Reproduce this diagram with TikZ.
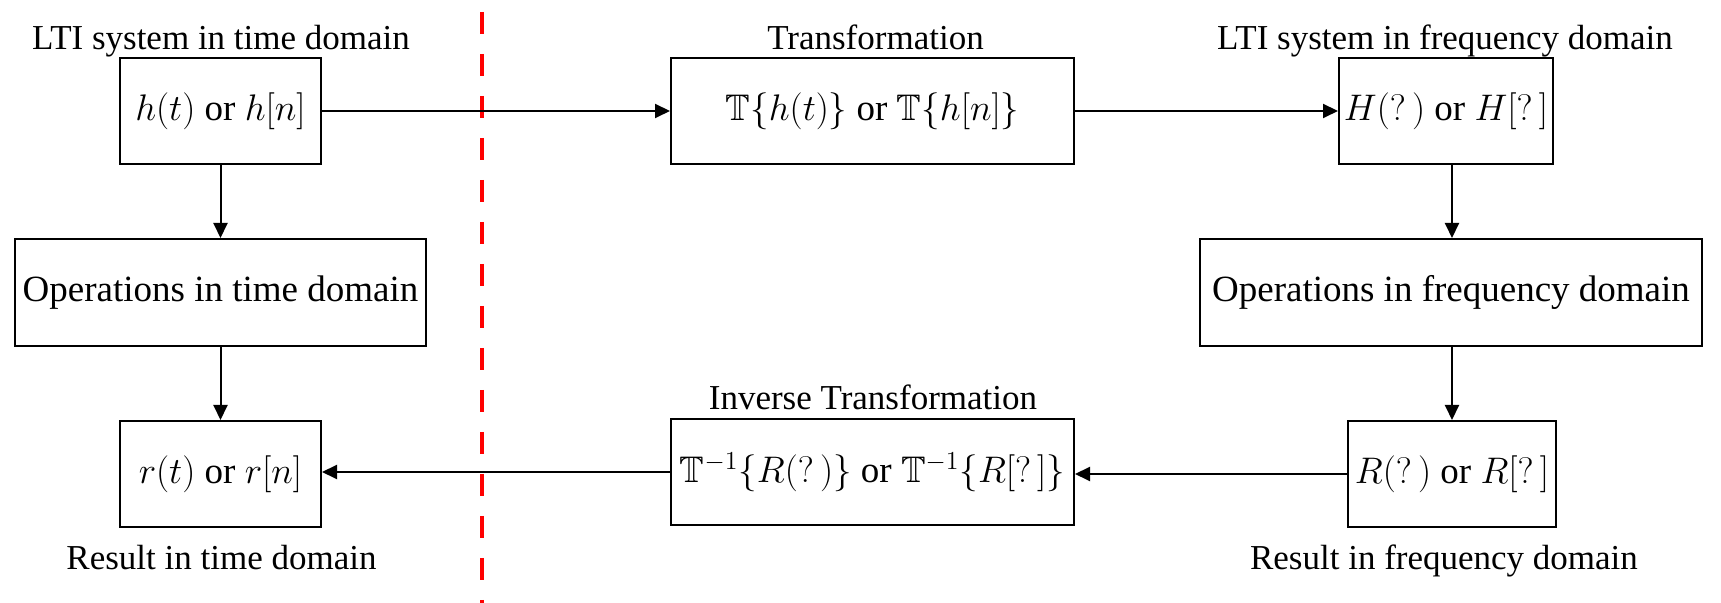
\RequirePackage{fix-cm}
\documentclass[tikz,border=0pt]{standalone}
\usepackage{amssymb}
\DeclareFontFamily{U}{msb}{}
\DeclareFontShape{U}{msb}{m}{n}{<-> msbm10}{}
\usepackage{fontspec}
\setmainfont{Liberation Serif}
\usetikzlibrary{arrows.meta}
\begin{document}
\begin{tikzpicture}[x=0.5pt,y=-0.5pt,
  box/.style={draw, line width=1pt, inner sep=0pt, font=\fontsize{18.5}{22}\selectfont},
  mbox/.style={box, font=\fontsize{18.5}{22}\selectfont},
  ttl/.style={anchor=base, inner sep=0pt, font=\fontsize{17.5}{21}\selectfont},
  arr/.style={line width=1pt, -{Triangle[length=7.5pt,width=7pt]}},
  divider/.style={red, line width=2pt, dash pattern=on 11pt off 10pt}]
\useasboundingbox (0,0) rectangle (1721,603);
% boxes
\node[mbox, minimum width=100.5pt, minimum height=53pt] (h) at (220.5,111) {$h(t)$ or $h[n]$};
\node[mbox, minimum width=201.5pt, minimum height=53pt] (T) at (872.5,111) {$\mathbb{T}\{h(t)\}$ or $\mathbb{T}\{h[n]\}$};
\node[mbox, minimum width=107pt, minimum height=53pt] (H) at (1446,111) {$H(?\,)$ or $H[?\,]$};
\node[box, minimum width=205.5pt, minimum height=53.5pt] (opsT) at (220.5,292.5) {Operations in time domain};
\node[box, minimum width=251pt, minimum height=53.5pt] (opsF) at (1451,292.5) {Operations in frequency domain};
\node[mbox, minimum width=100.5pt, minimum height=53pt] (r) at (220.5,474) {$r(t)$ or $r[n]$};
\node[mbox, minimum width=201.5pt, minimum height=53pt] (Tinv) at (872.5,472) {$\mathbb{T}^{-1}\{R(?\,)\}$ or $\mathbb{T}^{-1}\{R[?\,]\}$};
\node[mbox, minimum width=104pt, minimum height=53pt] (R) at (1452,474) {$R(?\,)$ or $R[?\,]$};
% titles
\node[ttl] (th) at (221,50) {LTI system in time domain};
\node[ttl] (tT) at (875.5,50) {Transformation};
\node[ttl] (tH) at (1445,50) {LTI system in frequency domain};
\node[ttl] (tTinv) at (873,410) {Inverse Transformation};
\node[ttl] (tr) at (221.5,570) {Result in time domain};
\node[ttl] (tR) at (1444,570) {Result in frequency domain};
% divider
\draw[divider] (482,12) -- (482,603);
% connectors
\draw[arr] (h.east) -- (T.west);
\draw[arr] (T.east) -- (H.west);
\draw[arr] (h.south) -- (opsT.north);
\draw[arr] (opsT.south) -- (r.north);
\draw[arr] (H.south -| R.north) -- (opsF.north -| R.north);
\draw[arr] (opsF.south -| R.north) -- (R.north);
\draw[arr] (R.west) -- (R.west -| Tinv.east);
\draw[arr] (Tinv.west) -- (Tinv.west -| r.east);
\end{tikzpicture}
\end{document}
